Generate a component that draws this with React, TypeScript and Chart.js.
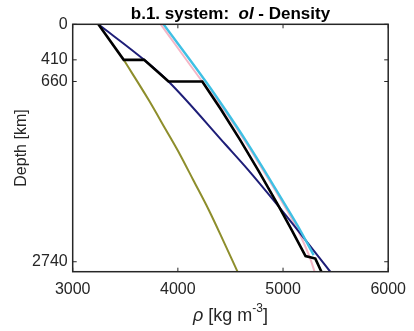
import React, { useEffect, useRef } from 'react';
import { Chart, registerables } from 'chart.js';

Chart.register(...registerables);

const FONT = '"Liberation Sans", Arial, Helvetica, sans-serif';
const TEXT = '#262626';

// axes
const X_MIN = 3000;
const X_MAX = 6000;
const X_STEP = 1000;
const Y_MIN = 0;
const Y_MAX = 2855;
const DEPTH_TICKS = [0, 410, 660, 2740];

// series: density (kg m^-3) vs depth (km)
const blackDepth = [0, 410, 410, 660, 660, 989, 1336, 1682, 2086, 2374, 2675, 2704, 2855];
const blackRho = [3244, 3485, 3679, 3911, 4232, 4413, 4593, 4763, 4953, 5083, 5214, 5307, 5365];

const navyDepth = [0, 410, 660, 1393, 1682, 2086, 2351, 2855];
const navyRho = [3244, 3679, 3911, 4457, 4670, 4948, 5124, 5449];

const cyanDepth = [0, 660, 989, 1336, 1682, 2086, 2374, 2663];
const cyanRho = [3864, 4265, 4453, 4643, 4821, 5022, 5162, 5291];

const pinkDepth = [0, 660, 989, 1336, 1682, 2086, 2374, 2685, 2855];
const pinkRho = [3837, 4232, 4440, 4630, 4808, 5008, 5140, 5253, 5300];

const oliveDepth = [410, 874, 1220, 1508, 1797, 2143, 2490, 2859];
const oliveRho = [3485, 3723, 3887, 4022, 4146, 4294, 4429, 4569];

const pts = (rho: number[], depth: number[]) => rho.map((r, i) => ({ x: r, y: depth[i] }));

const framePlugin = {
  id: 'frame',
  afterDatasetsDraw(chart: any) {
    const { ctx, chartArea: a, scales } = chart;
    const xs = scales.x;
    const ys = scales.y;
    ctx.save();
    ctx.strokeStyle = TEXT;
    ctx.lineWidth = 1;
    const L = 4;
    const seg = (x1: number, y1: number, x2: number, y2: number) => {
      ctx.beginPath();
      ctx.moveTo(x1, y1);
      ctx.lineTo(x2, y2);
      ctx.stroke();
    };
    xs.ticks.forEach((t: any) => {
      const px = xs.getPixelForValue(t.value);
      seg(px, a.bottom, px, a.bottom - L);
      seg(px, a.top, px, a.top + L);
    });
    ys.ticks.forEach((t: any) => {
      const py = ys.getPixelForValue(t.value);
      seg(a.left, py, a.left + L, py);
      seg(a.right, py, a.right - L, py);
    });
    ctx.lineWidth = 1.5;
    ctx.strokeRect(a.left, a.top, a.right - a.left, a.bottom - a.top);

    ctx.fillStyle = TEXT;
    ctx.textBaseline = 'middle';
    ctx.textAlign = 'left';
    const cx = (a.left + a.right) / 2;

    // title
    const parts = [
      { t: 'b.1. system:  ', f: `bold 17px ${FONT}` },
      { t: 'ol', f: `italic bold 17px ${FONT}` },
      { t: ' - Density', f: `bold 17px ${FONT}` },
    ];
    let w = 0;
    parts.forEach((p) => {
      ctx.font = p.f;
      w += ctx.measureText(p.t).width;
    });
    let x = cx - w / 2;
    ctx.fillStyle = '#000';
    parts.forEach((p) => {
      ctx.font = p.f;
      ctx.fillText(p.t, x, 14.5);
      x += ctx.measureText(p.t).width;
    });

    // x label
    ctx.fillStyle = TEXT;
    const xl = [
      { t: '\u03c1', f: `italic 18px ${FONT}`, dy: 0 },
      { t: ' [kg m', f: `18px ${FONT}`, dy: 0 },
      { t: '-3', f: `12px ${FONT}`, dy: -7 },
      { t: ']', f: `18px ${FONT}`, dy: 0 },
    ];
    w = 0;
    xl.forEach((p) => {
      ctx.font = p.f;
      w += ctx.measureText(p.t).width;
    });
    x = cx - w / 2;
    xl.forEach((p) => {
      ctx.font = p.f;
      ctx.fillText(p.t, x, 316 + p.dy);
      x += ctx.measureText(p.t).width;
    });

    // y label
    ctx.save();
    ctx.translate(22, (a.top + a.bottom) / 2);
    ctx.rotate(-Math.PI / 2);
    ctx.textAlign = 'center';
    ctx.font = `16px ${FONT}`;
    ctx.fillText('Depth [km]', 0, 0);
    ctx.restore();

    ctx.restore();
  },
};

export default function App() {
  const ref = useRef<HTMLCanvasElement>(null);
  useEffect(() => {
    if (!ref.current) return;
    const line = (data: any, color: string, width: number, order: number, smooth: boolean) => ({
      data,
      showLine: true,
      borderColor: color,
      backgroundColor: color,
      borderWidth: width,
      pointRadius: 0,
      tension: 0,
      cubicInterpolationMode: smooth ? 'monotone' : 'default',
      fill: false,
      order,
    });
    const chart = new Chart(ref.current, {
      type: 'scatter',
      data: {
        datasets: [
          line(pts(blackRho, blackDepth), '#000000', 2.6, 0, false),
          line(pts(cyanRho, cyanDepth), '#3fc0e4', 2.4, 1, true),
          line(pts(navyRho, navyDepth), '#1e1e78', 2, 2, true),
          line(pts(pinkRho, pinkDepth), '#f4b6c6', 2, 3, true),
          line(pts(oliveRho, oliveDepth), '#8e8e2c', 2, 4, true),
        ],
      },
      options: {
        animation: false,
        responsive: false,
        layout: { padding: { top: 24.3, right: 17.3, left: 0, bottom: 0 } },
        plugins: { legend: { display: false }, tooltip: { enabled: false } },
        scales: {
          x: {
            type: 'linear',
            min: X_MIN,
            max: X_MAX,
            grid: { display: false, drawTicks: false },
            border: { display: false },
            ticks: {
              stepSize: X_STEP,
              color: TEXT,
              font: { family: FONT, size: 16 },
              padding: 8,
              maxRotation: 0,
              callback: (v: any) => String(v),
            },
            afterFit: (s: any) => {
              s.height = 59.3;
            },
          },
          y: {
            type: 'linear',
            reverse: true,
            min: Y_MIN,
            max: Y_MAX,
            grid: { display: false, drawTicks: false },
            border: { display: false },
            ticks: {
              color: TEXT,
              font: { family: FONT, size: 16 },
              padding: 5,
              autoSkip: false,
              callback: (v: any) => String(v),
            },
            afterBuildTicks: (s: any) => {
              s.ticks = DEPTH_TICKS.map((v) => ({ value: v }));
            },
            afterFit: (s: any) => {
              s.width = 72.7;
            },
          },
        },
      },
      plugins: [framePlugin],
    } as any);
    return () => chart.destroy();
  }, []);
  return (
    <div style={{ position: 'fixed', left: 0, top: 0, width: 414, height: 331, background: '#fff' }}>
      <canvas ref={ref} width={414} height={331} />
    </div>
  );
}
